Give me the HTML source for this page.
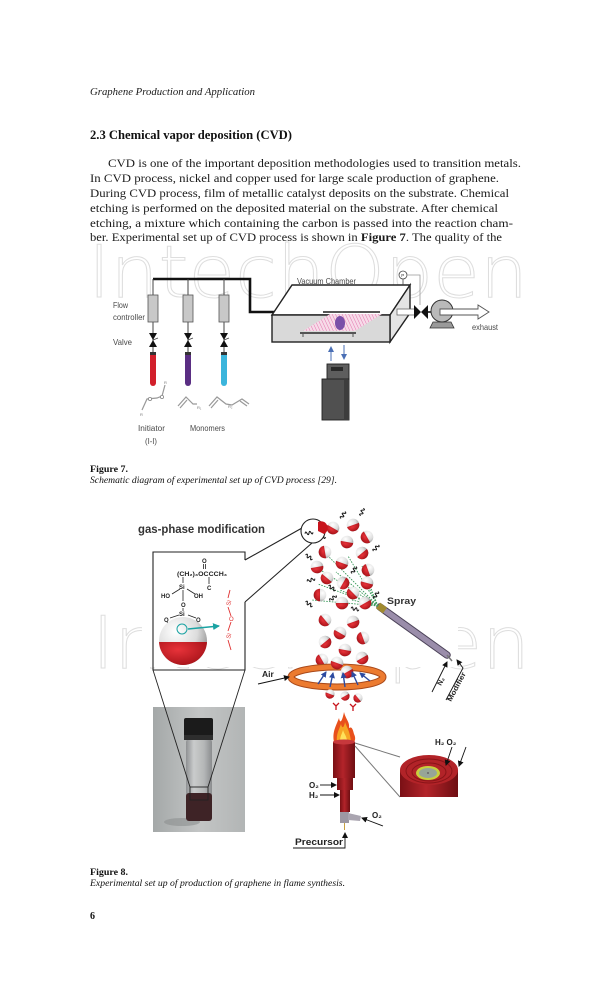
<!DOCTYPE html>
<html><head><meta charset="utf-8"><style>
html,body{margin:0;padding:0;background:#fff;}
svg{display:block;}
</style></head><body>
<svg width="612" height="1008" viewBox="0 0 612 1008" xmlns="http://www.w3.org/2000/svg">
<defs>
<radialGradient id="wg" cx="35%" cy="30%" r="75%"><stop offset="0" stop-color="#ffffff"/><stop offset="0.6" stop-color="#dcdcdc"/><stop offset="1" stop-color="#8e8e8e"/></radialGradient>
<radialGradient id="rg" cx="40%" cy="30%" r="80%"><stop offset="0" stop-color="#e8333a"/><stop offset="1" stop-color="#9a0c12"/></radialGradient>
<linearGradient id="photo" x1="0" y1="0" x2="1" y2="0"><stop offset="0" stop-color="#a4a8a8"/><stop offset="0.5" stop-color="#c3c5c5"/><stop offset="1" stop-color="#b2b5b5"/></linearGradient>
<linearGradient id="glass" x1="0" y1="0" x2="1" y2="0"><stop offset="0" stop-color="#8f9193"/><stop offset="0.3" stop-color="#c9cbcc"/><stop offset="0.7" stop-color="#b4b6b7"/><stop offset="1" stop-color="#8a8c8e"/></linearGradient>
<linearGradient id="burn" x1="0" y1="0" x2="1" y2="0"><stop offset="0" stop-color="#7a1015"/><stop offset="0.45" stop-color="#b3242a"/><stop offset="1" stop-color="#6e0e12"/></linearGradient>
<pattern id="stripe" width="3" height="3" patternUnits="userSpaceOnUse" patternTransform="rotate(-25)"><rect width="3" height="3" fill="#f7dbe9"/><line x1="0" y1="0" x2="0" y2="3" stroke="#e276ad" stroke-width="1"/></pattern>
<marker id="ah" markerWidth="6" markerHeight="6" refX="5" refY="3" orient="auto" markerUnits="userSpaceOnUse"><path d="M0,0 L6,3 L0,6 Z" fill="#111"/></marker>
<marker id="ahb" markerWidth="6" markerHeight="6" refX="5" refY="3" orient="auto" markerUnits="userSpaceOnUse"><path d="M0,0 L6,3 L0,6 Z" fill="#4a6fb5"/></marker>
<marker id="ahc" markerWidth="7" markerHeight="7" refX="6" refY="3.5" orient="auto" markerUnits="userSpaceOnUse"><path d="M0,0 L7,3.5 L0,7 Z" fill="#1ba3a3"/></marker>
<marker id="ahn" markerWidth="6" markerHeight="6" refX="5" refY="3" orient="auto" markerUnits="userSpaceOnUse"><path d="M0,0 L6,3 L0,6 Z" fill="#2c4aa0"/></marker>
<g id="sp"><circle r="6.3" fill="url(#wg)"/><path d="M-6.3,0 A6.3,6.3 0 0 0 6.3,0 Z" fill="url(#rg)"/></g>
<g id="sps"><circle r="4.6" fill="url(#wg)"/><path d="M-4.6,0 A4.6,4.6 0 0 0 4.6,0 Z" fill="url(#rg)"/></g>
<path id="sq" d="M-4,0 q1,-3 2,0 t2,0 t2,0 t2,0" fill="none" stroke="#111" stroke-width="1"/>
</defs>

<rect width="612" height="1008" fill="#fff"/>

<!-- Header -->
<text x="90" y="95" font-family="Liberation Serif, serif" font-style="italic" font-size="10.5" fill="#1a1a1a" textLength="165" lengthAdjust="spacingAndGlyphs">Graphene Production and Application</text>

<text x="90" y="139" font-family="Liberation Serif, serif" font-weight="bold" font-size="12.5" fill="#111" textLength="202" lengthAdjust="spacingAndGlyphs">2.3 Chemical vapor deposition (CVD)</text>

<g font-family="Liberation Serif, serif" font-size="11.5" fill="#1a1a1a">
<text x="108" y="167" textLength="413" lengthAdjust="spacingAndGlyphs">CVD is one of the important deposition methodologies used to transition metals.</text>
<text x="90" y="182" textLength="409" lengthAdjust="spacingAndGlyphs">In CVD process, nickel and copper used for large scale production of graphene.</text>
<text x="90" y="197" textLength="419" lengthAdjust="spacingAndGlyphs">During CVD process, film of metallic catalyst deposits on the substrate. Chemical</text>
<text x="90" y="212" textLength="408" lengthAdjust="spacingAndGlyphs">etching is performed on the deposited material on the substrate. After chemical</text>
<text x="90" y="227" textLength="423" lengthAdjust="spacingAndGlyphs">etching, a mixture which containing the carbon is passed into the reaction cham-</text>
<text x="90" y="241" textLength="412" lengthAdjust="spacingAndGlyphs">ber. Experimental set up of CVD process is shown in <tspan font-weight="bold">Figure 7</tspan>. The quality of the</text>
</g>

<!-- Watermark fig 7 -->
<text x="88" y="297" font-family="DejaVu Sans, Liberation Sans, sans-serif" font-weight="200" font-size="72" fill="none" stroke="#dedede" stroke-width="1" textLength="440" lengthAdjust="spacingAndGlyphs">IntechOpen</text>

<!-- ================= FIGURE 7 ================= -->
<g>
<polyline points="153,279 250,279 250,312 276,312" fill="none" stroke="#111" stroke-width="2.6"/>
<g stroke="#444" stroke-width="1">
<line x1="153" y1="279" x2="153" y2="295"/><line x1="188" y1="279" x2="188" y2="295"/><line x1="224" y1="279" x2="224" y2="295"/>
<line x1="153" y1="322" x2="153" y2="353"/><line x1="188" y1="322" x2="188" y2="353"/><line x1="224" y1="322" x2="224" y2="353"/>
</g>
<g fill="#c8c8c8" stroke="#555" stroke-width="0.8">
<rect x="148" y="295" width="10" height="27"/><rect x="183" y="295" width="10" height="27"/><rect x="219" y="295" width="10" height="27"/>
</g>
<g fill="#111">
<path d="M149,333 L157,333 L153,340 Z M149,347 L157,347 L153,340 Z"/>
<path d="M184,333 L192,333 L188,340 Z M184,347 L192,347 L188,340 Z"/>
<path d="M220,333 L228,333 L224,340 Z M220,347 L228,347 L224,340 Z"/>
</g>
<g stroke="#444" stroke-width="0.8"><line x1="153" y1="340" x2="158" y2="338"/><line x1="188" y1="340" x2="193" y2="338"/><line x1="224" y1="340" x2="229" y2="338"/></g>
<rect x="150" y="352" width="6" height="3" fill="#333"/>
<rect x="185" y="352" width="6" height="3" fill="#333"/>
<rect x="221" y="352" width="6" height="3" fill="#333"/>
<path d="M150,355 L156,355 L156,383 A3,3 0 0 1 150,383 Z" fill="#d21f2b"/>
<path d="M185,355 L191,355 L191,383 A3,3 0 0 1 185,383 Z" fill="#5a2e83"/>
<path d="M221,355 L227,355 L227,383 A3,3 0 0 1 221,383 Z" fill="#3bb5dc"/>
<g fill="none" stroke="#999" stroke-width="1.2">
<polyline points="165,385 162,396 157,398 147,399 142,410"/>
<polyline points="178,406 186,397 193,404 197,404"/>
<polyline points="180,408 187,400"/>
<polyline points="209,406 217,397 226,404 232,405 242,399 249,404"/>
<polyline points="211,408 218,400"/>
<polyline points="240,401 247,406"/>
</g>
<g fill="#fff" stroke="#888" stroke-width="0.8"><circle cx="162" cy="397" r="1.6"/><circle cx="150" cy="399" r="1.6"/></g>
<g font-family="Liberation Sans, sans-serif" font-size="4" fill="#777"><text x="164" y="384">R</text><text x="140" y="416">R</text><text x="197" y="409">R₁</text><text x="228" y="408">R₂</text></g>
<g font-family="Liberation Sans, sans-serif" font-size="8.5" fill="#4a4a4a">
<text x="113" y="308" textLength="15" lengthAdjust="spacingAndGlyphs">Flow</text>
<text x="113" y="320" textLength="32" lengthAdjust="spacingAndGlyphs">controller</text>
<text x="113" y="345" textLength="19" lengthAdjust="spacingAndGlyphs">Valve</text>
<text x="138" y="431" textLength="27" lengthAdjust="spacingAndGlyphs">Initiator</text>
<text x="145" y="444" textLength="12" lengthAdjust="spacingAndGlyphs">(I-I)</text>
<text x="190" y="431" textLength="35" lengthAdjust="spacingAndGlyphs">Monomers</text>
<text x="297" y="284" textLength="59" lengthAdjust="spacingAndGlyphs">Vacuum Chamber</text>
<text x="472" y="330" textLength="26" lengthAdjust="spacingAndGlyphs">exhaust</text>
</g>
<line x1="292" y1="285" x2="292" y2="310" stroke="#777" stroke-width="0.8"/>
<polygon points="272,315 292,285 410,285 390,315" fill="#fff" stroke="#222" stroke-width="1.4"/>
<polygon points="390,315 410,285 410,313 390,342" fill="#e4e4e4" stroke="#222" stroke-width="1.4"/>
<rect x="272" y="315" width="118" height="27" fill="#d9d9d9" stroke="#222" stroke-width="1.4"/>
<polygon points="303,331 355,331 382,314 330,314" fill="url(#stripe)"/>
<line x1="323" y1="312" x2="380" y2="312" stroke="#555" stroke-width="2"/>
<line x1="300" y1="333" x2="356" y2="333" stroke="#555" stroke-width="2"/>
<g stroke="#555" stroke-width="1"><line x1="303" y1="333" x2="303" y2="337"/><line x1="353" y1="333" x2="353" y2="337"/></g>
<ellipse cx="340" cy="323" rx="5" ry="7" fill="#7a4fa8"/>
<line x1="403" y1="279" x2="403" y2="285" stroke="#444" stroke-width="0.8"/>
<circle cx="403" cy="275" r="4" fill="#fff" stroke="#444" stroke-width="0.8"/>
<text x="401.3" y="277" font-family="Liberation Sans, sans-serif" font-size="4.5" fill="#333">P</text>
<polyline points="407,275 420,275 420,305" fill="none" stroke="#999" stroke-width="0.8"/>
<rect x="397" y="309" width="18" height="6" fill="#fff" stroke="#666" stroke-width="0.8"/>
<path d="M414,305 L414,319 L421,312 Z M428,305 L428,319 L421,312 Z" fill="#111"/>
<line x1="428" y1="312" x2="433" y2="312" stroke="#444" stroke-width="2"/>
<polygon points="433,322 451,322 454,328 430,328" fill="#9a9a9a" stroke="#333" stroke-width="0.8"/>
<circle cx="442" cy="311" r="11" fill="#b9b9b9" stroke="#333" stroke-width="1"/>
<polygon points="440,309 478,309 478,305 489,312 478,319 478,315 440,315" fill="#fff" stroke="#555" stroke-width="0.9"/>
<line x1="331" y1="361" x2="331" y2="347" stroke="#4a6fb5" stroke-width="1" marker-end="url(#ahb)"/>
<line x1="344" y1="345" x2="344" y2="359" stroke="#4a6fb5" stroke-width="1" marker-end="url(#ahb)"/>
<rect x="327" y="364" width="22" height="15" fill="#5e5e5e" stroke="#222" stroke-width="0.9"/>
<rect x="331" y="367" width="12" height="4" fill="#2a2a2a"/>
<rect x="322" y="379" width="27" height="41" fill="#505050" stroke="#222" stroke-width="0.9"/>
<rect x="344" y="380" width="5" height="40" fill="#3d3d3d"/>
</g>

<text x="90" y="472" font-family="Liberation Serif, serif" font-weight="bold" font-size="9.5" fill="#111" textLength="38" lengthAdjust="spacingAndGlyphs">Figure 7.</text>
<text x="90" y="483" font-family="Liberation Serif, serif" font-style="italic" font-size="9.5" fill="#111" textLength="247" lengthAdjust="spacingAndGlyphs">Schematic diagram of experimental set up of CVD process [29].</text>

<!-- Watermark fig 8 -->
<text x="92" y="668" font-family="DejaVu Sans, Liberation Sans, sans-serif" font-weight="200" font-size="72" fill="none" stroke="#dedede" stroke-width="1" textLength="438" lengthAdjust="spacingAndGlyphs">IntechOpen</text>
<rect x="142" y="595" width="316" height="72" fill="#fff"/>

<!-- ================= FIGURE 8 ================= -->
<text x="138" y="533" font-family="Liberation Sans, sans-serif" font-weight="bold" font-size="11.5" fill="#333" textLength="127" lengthAdjust="spacingAndGlyphs">gas-phase modification</text>

<g fill="none" stroke="#222" stroke-width="1.1">
<polyline points="245,560 245,552 153,552 153,670 245,670 245,602"/>
<line x1="245" y1="560" x2="302" y2="528"/>
<line x1="245" y1="602" x2="312" y2="543"/>
</g>
<g font-family="Liberation Sans, sans-serif" font-weight="bold" font-size="6" fill="#222">
<text x="202" y="563">O</text>
<text x="177" y="576" textLength="50" lengthAdjust="spacingAndGlyphs">(CH₂)₃OCCCH₃</text>
<text x="207" y="590">C</text>
<text x="179" y="589">Si</text>
<text x="161" y="598">HO</text>
<text x="194" y="598">OH</text>
<text x="181" y="607">O</text>
<text x="179" y="616">Si</text>
<text x="164" y="622">O</text>
<text x="196" y="622">O</text>
<text x="180" y="631">O</text>
</g>
<g stroke="#222" stroke-width="0.8">
<line x1="203.5" y1="564" x2="203.5" y2="569"/><line x1="205.5" y1="564" x2="205.5" y2="569"/>
<line x1="209" y1="577" x2="209" y2="584"/>
<line x1="183" y1="577" x2="183" y2="583"/>
<line x1="180" y1="589" x2="172" y2="594"/><line x1="187" y1="589" x2="195" y2="594"/>
<line x1="183" y1="590" x2="183" y2="601"/>
<line x1="183" y1="608" x2="183" y2="611"/>
<line x1="179" y1="615" x2="170" y2="618"/><line x1="188" y1="615" x2="196" y2="618"/>
<line x1="167" y1="622" x2="170" y2="627"/><line x1="198" y1="622" x2="195" y2="627"/>
<line x1="183" y1="617" x2="183" y2="625"/>
</g>
<clipPath id="bigc"><circle cx="183" cy="641" r="24"/></clipPath>
<circle cx="183" cy="641" r="24" fill="url(#wg)"/>
<rect x="158" y="642" width="50" height="25" fill="url(#rg)" clip-path="url(#bigc)"/>
<circle cx="182" cy="629" r="5" fill="none" stroke="#1ba3a3" stroke-width="1"/>
<line x1="188" y1="629" x2="219" y2="626" stroke="#1ba3a3" stroke-width="1.4" marker-end="url(#ahc)"/>
<g stroke="#e03030" stroke-width="0.9" fill="none">
<polyline points="230,590 228,598"/>
<polyline points="228,607 231,616"/>
<polyline points="231,622 228,631"/>
<polyline points="228,640 231,650"/>
</g>
<g font-family="Liberation Sans, sans-serif" font-size="6" fill="#e03030">
<text transform="translate(230,606) rotate(-75)">Si</text>
<text x="229" y="621">O</text>
<text transform="translate(230,639) rotate(-75)">Si</text>
</g>

<rect x="153" y="707" width="92" height="125" fill="url(#photo)"/>
<ellipse cx="182" cy="822" rx="18" ry="4" fill="#8c8f90" opacity="0.6"/>
<rect x="186" y="739" width="26" height="82" rx="3" fill="url(#glass)"/>
<rect x="186" y="793" width="26" height="28" rx="3" fill="#3e2326"/>
<rect x="184" y="718" width="29" height="22" rx="2" fill="#1b1b1b"/>
<rect x="184" y="735" width="29" height="5" fill="#2e2e2e"/>
<g fill="none" stroke="#222" stroke-width="0.9">
<line x1="153" y1="670" x2="190" y2="787"/>
<line x1="245" y1="670" x2="208" y2="787"/>
<rect x="190" y="787" width="18" height="13"/>
</g>

<line x1="380" y1="607" x2="447" y2="655" stroke="#4b4258" stroke-width="7.5" stroke-linecap="round"/>
<line x1="380" y1="607" x2="447" y2="655" stroke="#9a8daa" stroke-width="5.5" stroke-linecap="round"/>
<line x1="378" y1="605.5" x2="385" y2="610.5" stroke="#a08a30" stroke-width="7"/>
<line x1="447" y1="655" x2="452" y2="661" stroke="#777" stroke-width="1.5"/>
<g stroke="#3c9a5c" stroke-width="0.9" stroke-dasharray="1.6,1.2" fill="none">
<line x1="378" y1="606" x2="320" y2="548"/>
<line x1="378" y1="606" x2="314" y2="566"/>
<line x1="378" y1="606" x2="318" y2="584"/>
<line x1="378" y1="606" x2="312" y2="600"/>
<line x1="378" y1="606" x2="336" y2="572"/>
<line x1="378" y1="606" x2="348" y2="556"/>
<line x1="378" y1="606" x2="362" y2="566"/>
<line x1="378" y1="606" x2="340" y2="590"/>
<line x1="378" y1="606" x2="368" y2="586"/>
<line x1="378" y1="606" x2="352" y2="600"/>
</g>
<g>
<use href="#sp" transform="translate(333,528) rotate(30)"/>
<use href="#sp" transform="translate(353,525) rotate(-20)"/>
<use href="#sp" transform="translate(367,537) rotate(60)"/>
<use href="#sp" transform="translate(347,542) rotate(10)"/>
<use href="#sp" transform="translate(325,552) rotate(80)"/>
<use href="#sp" transform="translate(362,553) rotate(-40)"/>
<use href="#sp" transform="translate(342,563) rotate(20)"/>
<use href="#sp" transform="translate(368,570) rotate(70)"/>
<use href="#sp" transform="translate(317,567) rotate(-10)"/>
<use href="#sp" transform="translate(327,578) rotate(40)"/>
<use href="#sp" transform="translate(343,583) rotate(-60)"/>
<use href="#sp" transform="translate(367,583) rotate(15)"/>
<use href="#sp" transform="translate(320,595) rotate(90)"/>
<use href="#sp" transform="translate(342,603) rotate(0)"/>
<use href="#sp" transform="translate(353,593) rotate(45)"/>
<use href="#sp" transform="translate(365,603) rotate(-30)"/>
</g>
<g>
<use href="#sq" transform="translate(343,515) rotate(-60)"/>
<use href="#sq" transform="translate(362,512) rotate(-70)"/>
<use href="#sq" transform="translate(322,536) rotate(20)"/>
<use href="#sq" transform="translate(376,548) rotate(-50)"/>
<use href="#sq" transform="translate(309,557) rotate(30)"/>
<use href="#sq" transform="translate(354,570) rotate(-60)"/>
<use href="#sq" transform="translate(332,588) rotate(30)"/>
<use href="#sq" transform="translate(311,580) rotate(-20)"/>
<use href="#sq" transform="translate(376,595) rotate(-60)"/>
<use href="#sq" transform="translate(355,609) rotate(10)"/>
<use href="#sq" transform="translate(309,604) rotate(30)"/>
<use href="#sq" transform="translate(333,598) rotate(-40)"/>
</g>
<circle cx="313" cy="531" r="12" fill="#fff" stroke="#222" stroke-width="1.1"/>
<use href="#sq" transform="translate(309,533) rotate(-10)"/>
<path d="M318,522 A6,6 0 0 1 324,534 L318,531 Z" fill="#c8141c"/>
<text x="387" y="604" font-family="Liberation Sans, sans-serif" font-weight="bold" font-size="9" fill="#333" textLength="29" lengthAdjust="spacingAndGlyphs">Spray</text>
<line x1="432" y1="692" x2="447" y2="662" stroke="#111" stroke-width="0.9" marker-end="url(#ah)"/>
<polyline points="446,700 463,668 457,660" fill="none" stroke="#111" stroke-width="0.9" marker-end="url(#ah)"/>
<text transform="translate(441,686) rotate(-62)" font-family="Liberation Sans, sans-serif" font-weight="bold" font-size="7" fill="#222">N₂</text>
<text transform="translate(451,702) rotate(-62)" font-family="Liberation Sans, sans-serif" font-weight="bold" font-size="7" fill="#222" textLength="32" lengthAdjust="spacingAndGlyphs">Modifier</text>

<g>
<use href="#sp" transform="translate(325,620) rotate(50)"/>
<use href="#sp" transform="translate(353,622) rotate(-20)"/>
<use href="#sp" transform="translate(340,633) rotate(30)"/>
<use href="#sp" transform="translate(363,638) rotate(70)"/>
<use href="#sp" transform="translate(325,642) rotate(-40)"/>
<use href="#sp" transform="translate(345,650) rotate(10)"/>
<use href="#sp" transform="translate(322,660) rotate(60)"/>
<use href="#sp" transform="translate(362,658) rotate(-30)"/>
</g>
<ellipse cx="337" cy="677" rx="46" ry="10" fill="none" stroke="#a9491a" stroke-width="7"/>
<ellipse cx="337" cy="677" rx="46" ry="10" fill="none" stroke="#ec7b30" stroke-width="5"/>
<use href="#sp" transform="translate(337,663) rotate(20)"/>
<use href="#sp" transform="translate(347,672) rotate(-30)"/>
<g stroke="#2c4aa0" stroke-width="1.4">
<line x1="318" y1="684" x2="326" y2="672" marker-end="url(#ahn)"/>
<line x1="330" y1="687" x2="333" y2="673" marker-end="url(#ahn)"/>
<line x1="345" y1="687" x2="343" y2="673" marker-end="url(#ahn)"/>
<line x1="358" y1="685" x2="352" y2="672" marker-end="url(#ahn)"/>
<line x1="370" y1="681" x2="360" y2="673" marker-end="url(#ahn)"/>
</g>
<text x="262" y="677" font-family="Liberation Sans, sans-serif" font-weight="bold" font-size="8.5" fill="#222">Air</text>
<line x1="258" y1="684" x2="289" y2="677" stroke="#111" stroke-width="0.9" marker-end="url(#ah)"/>
<g>
<use href="#sps" transform="translate(330,694) rotate(20)"/>
<use href="#sps" transform="translate(345,696) rotate(-30)"/>
<use href="#sps" transform="translate(358,698) rotate(50)"/>
</g>
<g stroke="#c8141c" stroke-width="1.3" fill="none">
<path d="M333,703 l3,3 l3,-3 M336,706 l0,4"/>
<path d="M350,704 l3,3 l3,-3 M353,707 l0,4"/>
</g>
<path d="M334,742 C332,732 336,726 339,718 C340,724 342,722 344,712 C346,720 350,722 349,728 C352,726 353,730 354,734 C356,738 355,741 354,742 Z" fill="#e8501c"/>
<path d="M337,742 C336,734 339,730 341,724 C342,729 344,728 345,722 C347,728 350,731 351,742 Z" fill="#f6a524"/>
<path d="M340,742 C340,736 342,734 343,730 C344,734 347,736 347,742 Z" fill="#ffe15a"/>
<rect x="333" y="742" width="22" height="36" fill="url(#burn)"/>
<ellipse cx="344" cy="742" rx="11" ry="2.5" fill="#c7383c"/>
<rect x="337" y="778" width="16" height="12" fill="url(#burn)"/>
<rect x="340" y="790" width="10" height="22" fill="url(#burn)"/>
<rect x="340" y="812" width="9" height="11" fill="#9d98a3"/>
<polygon points="348,813 361,816 360,821 348,820" fill="#aaa5b0"/>
<line x1="344.5" y1="823" x2="344.5" y2="830" stroke="#c8a040" stroke-width="1"/>
<g font-family="Liberation Sans, sans-serif" font-weight="bold" font-size="8" fill="#222">
<text x="309" y="788">O₂</text>
<text x="309" y="798">H₂</text>
<text x="372" y="818">O₂</text>
<text x="435" y="745">H₂ O₂</text>
</g>
<line x1="320" y1="785" x2="336" y2="785" stroke="#111" stroke-width="0.9" marker-end="url(#ah)"/>
<line x1="320" y1="795" x2="339" y2="795" stroke="#111" stroke-width="0.9" marker-end="url(#ah)"/>
<line x1="383" y1="826" x2="362" y2="818" stroke="#111" stroke-width="0.9" marker-end="url(#ah)"/>
<text x="295" y="845" font-family="Liberation Sans, sans-serif" font-weight="bold" font-size="9" fill="#222" textLength="48" lengthAdjust="spacingAndGlyphs">Precursor</text>
<polyline points="293,848 345,848 345,833" fill="none" stroke="#111" stroke-width="0.9" marker-end="url(#ah)"/>
<g stroke="#777" stroke-width="1">
<line x1="355" y1="743" x2="400" y2="757"/>
<line x1="355" y1="746" x2="400" y2="797"/>
</g>
<rect x="400" y="770" width="58" height="27" fill="url(#burn)"/>
<ellipse cx="429" cy="770" rx="29" ry="15" fill="#b22328"/>
<ellipse cx="429" cy="771" rx="23" ry="12" fill="none" stroke="#8a1418" stroke-width="1"/>
<ellipse cx="429" cy="772" rx="17" ry="9" fill="none" stroke="#8a1418" stroke-width="1"/>
<ellipse cx="428" cy="773" rx="12" ry="7" fill="#c8cf3e"/>
<ellipse cx="428" cy="773" rx="9" ry="5" fill="#97a597"/>
<circle cx="428" cy="773" r="1" fill="#666"/>
<line x1="452" y1="747" x2="446" y2="765" stroke="#111" stroke-width="0.9" marker-end="url(#ah)"/>
<line x1="466" y1="747" x2="459" y2="766" stroke="#111" stroke-width="0.9" marker-end="url(#ah)"/>

<text x="90" y="875" font-family="Liberation Serif, serif" font-weight="bold" font-size="9.5" fill="#111" textLength="38" lengthAdjust="spacingAndGlyphs">Figure 8.</text>
<text x="90" y="886" font-family="Liberation Serif, serif" font-style="italic" font-size="9.5" fill="#111" textLength="255" lengthAdjust="spacingAndGlyphs">Experimental set up of production of graphene in flame synthesis.</text>

<text x="90" y="919" font-family="Liberation Serif, serif" font-weight="bold" font-size="10" fill="#111">6</text>
</svg>
</body></html>
